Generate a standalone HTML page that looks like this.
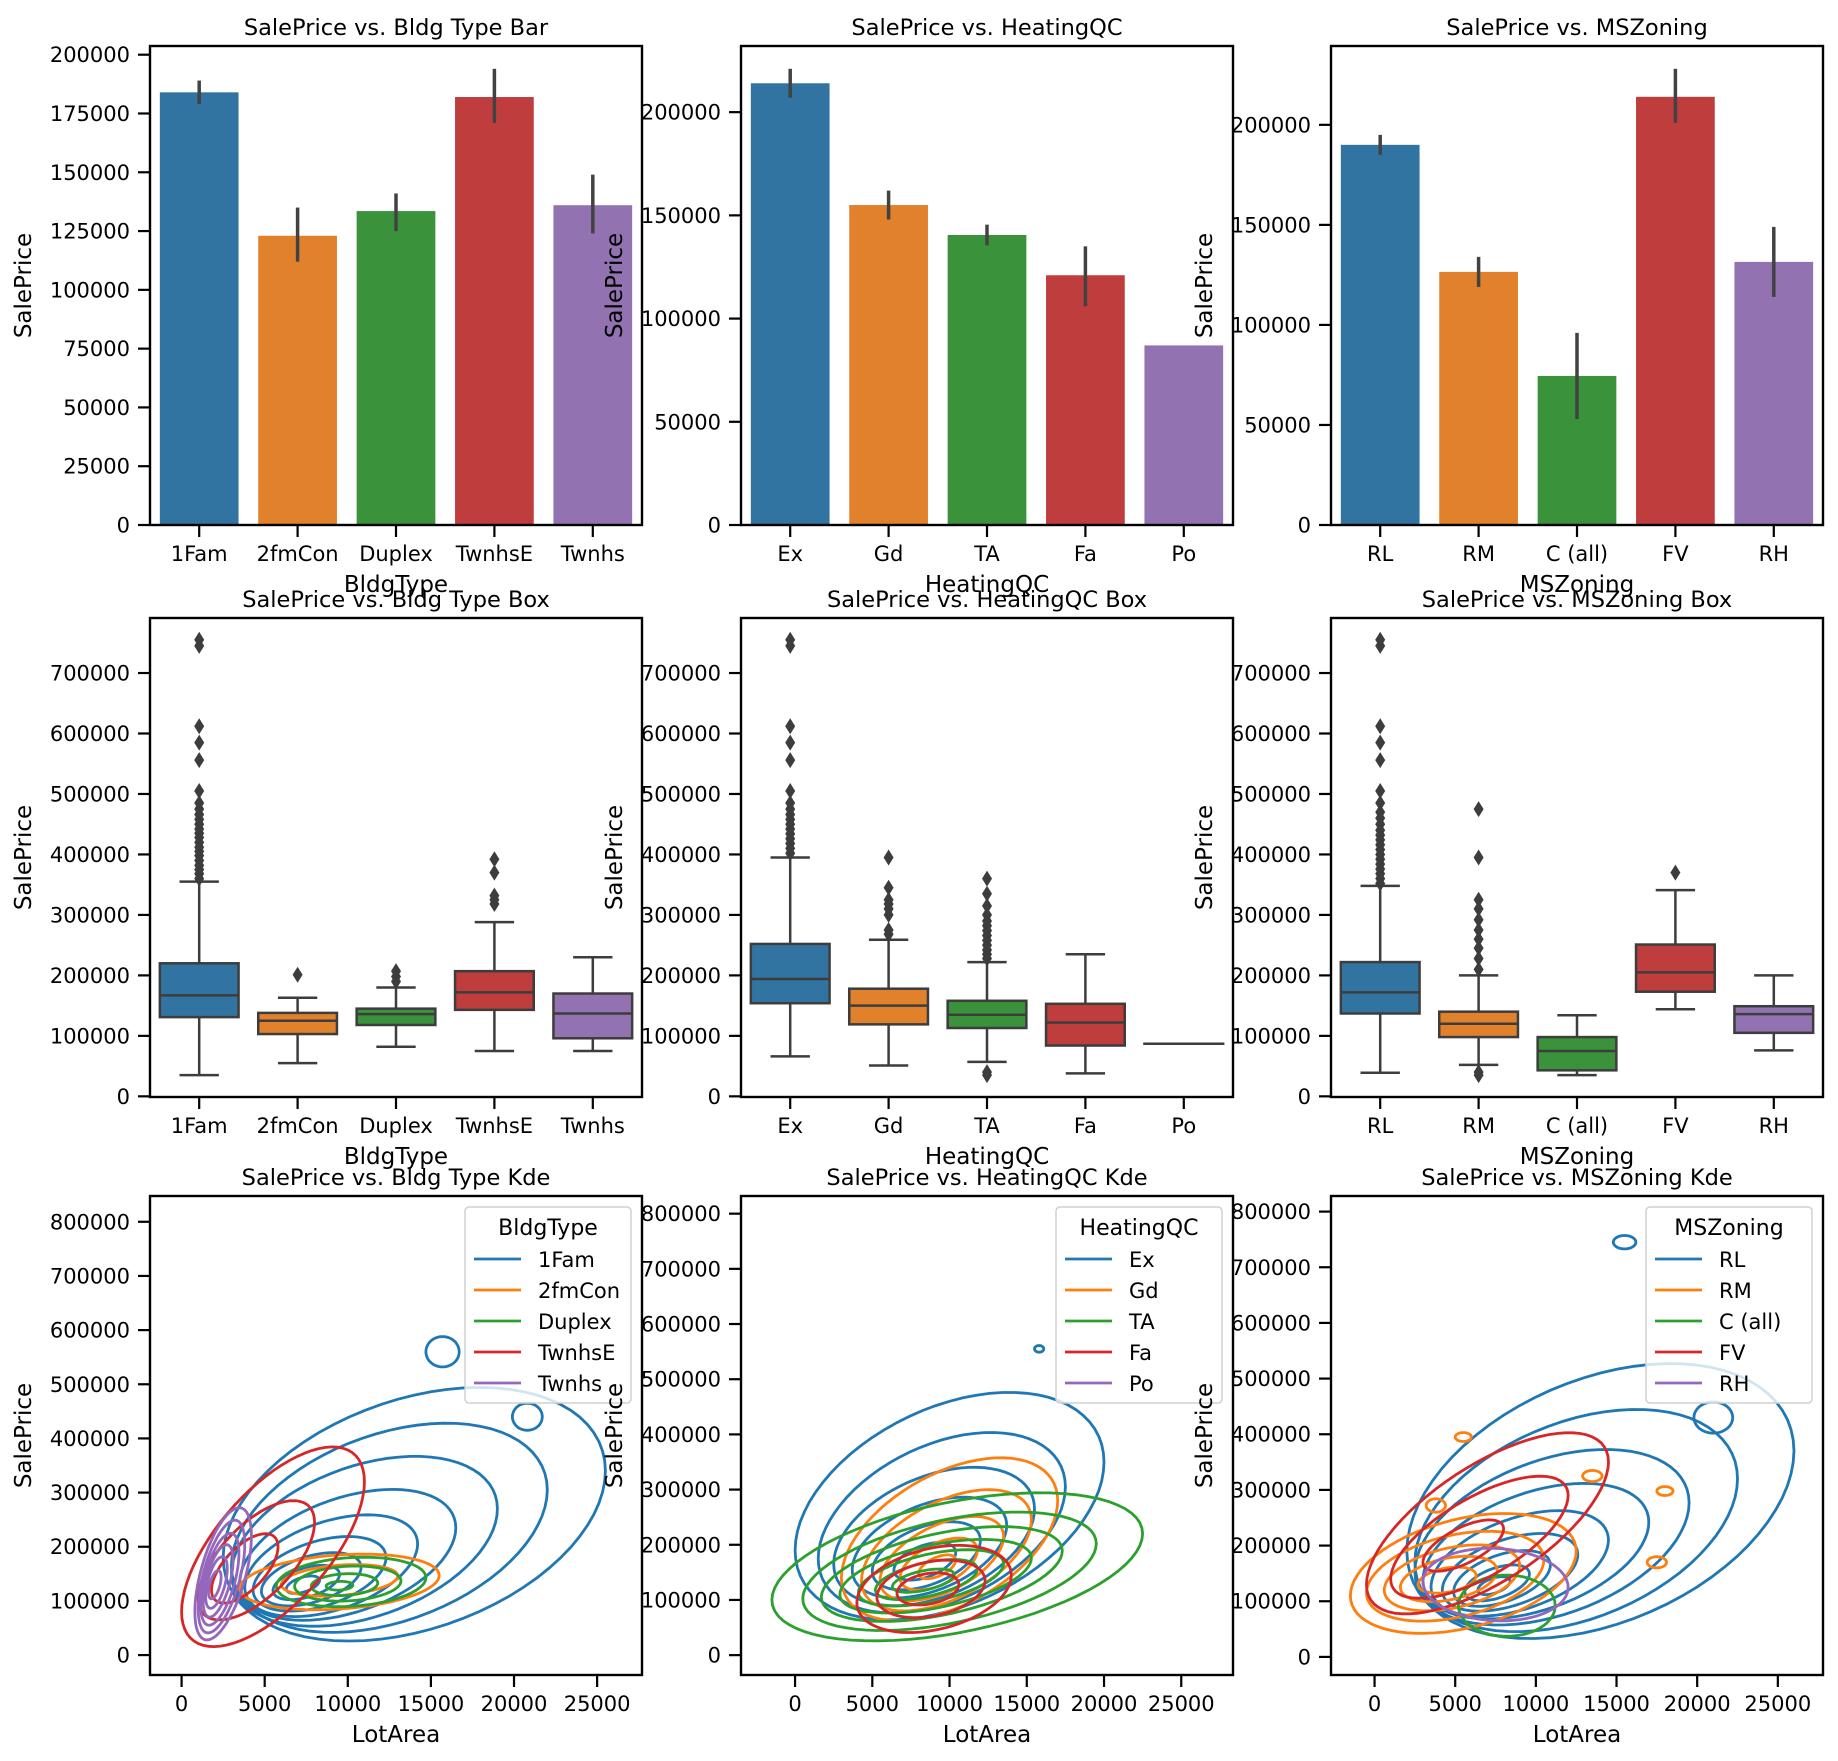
<!DOCTYPE html>
<html><head><meta charset="utf-8">
<style>
html,body{margin:0;padding:0;background:#fff;}
svg{display:block;font-family:"DejaVu Sans","Liberation Sans",sans-serif;}
</style></head>
<body>
<svg id="fig" xmlns="http://www.w3.org/2000/svg" width="1838" height="1761" viewBox="0 0 1838 1761"></svg>
<script>
// ---------- DATA ----------
const bldgCats = ["1Fam","2fmCon","Duplex","TwnhsE","Twnhs"];
const heatCats = ["Ex","Gd","TA","Fa","Po"];
const zoneCats = ["RL","RM","C (all)","FV","RH"];

const bldgMeans = [184000,123000,133500,182000,136000];
const bldgCiLow = [179000,112000,125000,171000,124000];
const bldgCiHigh = [189000,135000,141000,194000,149000];
const heatMeans = [214000,155000,140500,121000,87000];
const heatCiLow = [207000,148000,135500,106000,87000];
const heatCiHigh = [221000,162000,145500,135000,87000];
const zoneMeans = [190000,126500,74500,214000,131500];
const zoneCiLow = [185000,119000,53000,201000,114000];
const zoneCiHigh = [195000,134000,96000,228000,149000];

// box stats: [whiskerLow, Q1, median, Q3, whiskerHigh]
const bldgBox = [[35000,131000,167000,220000,355000],[55000,103000,125000,138000,163000],[82000,118000,136000,145000,180000],[75000,143000,172000,207000,288000],[75000,96000,137000,170000,230000]];
const bldgOut = [[360000,368000,375000,382000,390000,398000,405000,412000,420000,428000,435000,442000,450000,458000,466000,475000,485000,505000,556000,585000,612000,745000,755000],[201000],[190000,198000,207000],[318000,325000,332000,370000,392000],[]];
const heatBox = [[66000,154000,194000,252000,395000],[51000,119000,150000,178000,259000],[57000,113000,135000,158000,222000],[37900,84000,122000,153000,235000],[87000,87000,87000,87000,87000]];
const heatOut = [[402000,410000,418000,426000,434000,442000,450000,458000,466000,475000,485000,505000,556000,585000,612000,745000,755000],[268000,275000,300000,310000,318000,325000,345000,395000],[35000,40000,228000,235000,242000,250000,258000,266000,274000,282000,290000,300000,315000,335000,360000],[],[]];
const zoneBox = [[39000,137000,172000,222000,348000],[52000,98000,120000,140000,200000],[35000,43000,75000,98000,134000],[144000,173000,205000,251000,341000],[76000,105000,136000,149000,200000]];
const zoneOut = [[352000,360000,368000,376000,384000,392000,400000,408000,416000,424000,432000,440000,450000,460000,470000,485000,505000,556000,585000,612000,745000,755000],[35000,40000,210000,228000,245000,260000,275000,292000,310000,325000,395000,475000],[],[370000],[]];

// KDE density contour levels as [centerLotArea, centerPrice, halfLotArea, halfPrice, priceTilt]
const kdeB_1Fam = [[14000,260000,11500,220000,80000],[12500,235000,9500,180000,70000],[11000,210000,8000,145000,60000],[10000,185000,6500,110000,50000],[9000,165000,5200,85000,40000],[8300,150000,4000,62000,30000],[7800,140000,3000,44000,22000],[7500,134000,2000,28000,15000],[7300,130000,1000,14000,8000],[15700,560000,1000,28000,0],[20800,440000,900,25000,0]];
const kdeB_2fmCon = [[9500,135000,6000,50000,12000],[9500,138000,3500,28000,8000]];
const kdeB_Duplex = [[10200,135000,4500,45000,8000],[10000,132000,3200,32000,5000],[9800,130000,2000,20000,3000],[9500,128000,800,8000,1000]];
const kdeB_TwnhsE = [[5500,200000,5500,140000,120000],[4500,175000,3500,85000,70000],[3800,160000,2000,50000,40000]];
const kdeB_Twnhs = [[2500,150000,1700,100000,70000],[2400,145000,1400,85000,60000],[2300,140000,1150,70000,48000],[2200,137000,900,55000,38000],[2100,134000,650,40000,26000],[2000,130000,380,22000,14000]];

const kdeH_Ex = [[10000,270000,10000,190000,80000],[9500,240000,8000,150000,65000],[9000,215000,6500,115000,50000],[8700,195000,5000,82000,40000],[8500,180000,3500,55000,28000],[8400,170000,2000,30000,16000],[15800,555000,300,6000,0]];
const kdeH_Gd = [[10000,210000,7000,130000,70000],[9800,190000,5500,95000,55000],[9500,175000,4000,65000,40000],[9300,165000,2500,40000,25000],[9200,160000,1200,18000,12000]];
const kdeH_TA = [[10500,160000,12000,120000,60000],[10000,152000,9500,95000,50000],[9500,147000,7800,75000,42000],[9100,143000,6200,58000,33000],[8800,140000,4700,44000,26000],[8500,137000,3300,31000,19000],[8300,135000,2000,18000,11000]];
const kdeH_Fa = [[9000,120000,5000,75000,25000],[8800,120000,3500,50000,15000],[8600,120000,2000,28000,8000]];
const kdeH_Po = [];

const kdeZ_RL = [[14000,280000,12000,230000,90000],[12500,245000,10000,185000,75000],[11000,215000,8500,145000,62000],[10000,190000,7000,110000,52000],[9000,168000,5500,85000,42000],[8400,152000,4200,62000,32000],[7900,141000,3000,44000,24000],[7600,133000,2000,28000,16000],[7400,128000,1000,14000,8000],[15500,745000,700,12000,0],[21000,430000,1200,28000,0]];
const kdeZ_RM = [[5500,150000,7000,100000,40000],[5000,145000,5500,75000,30000],[4800,142000,4200,55000,22000],[4600,140000,3000,38000,15000],[4500,138000,1800,22000,8000],[5500,395000,500,8000,0],[3800,272000,600,12000,0],[13500,325000,600,10000,0],[18000,298000,500,8000,0],[17500,170000,600,10000,0]];
const kdeZ_C = [[8200,92000,3000,55000,0]];
const kdeZ_FV = [[7000,240000,7500,120000,110000],[6500,215000,5500,80000,75000],[5500,200000,2500,35000,30000]];
const kdeZ_RH = [[7500,130000,4500,65000,-5000]];

const barTicks1 = [0,25000,50000,75000,100000,125000,150000,175000,200000];
const barTicks2 = [0,50000,100000,150000,200000];
const boxTicks = [0,100000,200000,300000,400000,500000,600000,700000];
const kdeYTicks = [0,100000,200000,300000,400000,500000,600000,700000,800000];
const kdeXTicks = [0,5000,10000,15000,20000,25000];

// ---------- LAYOUT ----------
const NS = "http://www.w3.org/2000/svg";
const svg = document.getElementById("fig");
const colX = [150,741,1331], rowY = [46,618,1196], AW = 492, AH = 479;
const boxCol = ["#3274a1","#e1812c","#3a923a","#c03d3e","#9372b2"];
const lineCol = ["#1f77b4","#ff7f0e","#2ca02c","#d62728","#9467bd"];

function mk(tag, attrs, parent){
  const e = document.createElementNS(NS, tag);
  for (const k in attrs) e.setAttribute(k, attrs[k]);
  parent.appendChild(e);
  return e;
}
function txt(s, x, y, size, anchor, parent, rot){
  const t = mk("text", {x:x, y:y, "font-size":size, "text-anchor":anchor, fill:"#000"}, parent);
  if (rot) t.setAttribute("transform", "rotate(-90 "+x+" "+y+")");
  t.textContent = s;
  return t;
}
function scale(d0,d1,r0,r1){ return v => r0 + (v-d0)/(d1-d0)*(r1-r0); }

let clipN = 0;
function axes(c, r, xmin, xmax, ymin, ymax, name){
  const x0 = colX[c], y0 = rowY[r];
  const g = mk("g", {}, svg);
  
  
  const ax = {g:g, x0:x0, y0:y0, sx:scale(xmin,xmax,x0,x0+AW), sy:scale(ymin,ymax,y0+AH,y0)};
  const cid = "clip"+(clipN++);
  const cp = mk("clipPath", {id:cid}, g);
  mk("rect", {x:x0, y:y0, width:AW, height:AH}, cp);
  ax.plot = mk("g", {"clip-path":"url(#"+cid+")"}, g);
  
  
  return ax;
}
function frame(ax, xt, xl, yt, yl, xlabel, ylabel, title){
  const g = ax.g, x0 = ax.x0, y0 = ax.y0;
  const fr = mk("rect", {x:x0, y:y0, width:AW, height:AH, fill:"none", stroke:"#000", "stroke-width":2.4}, g);
  
  
  xt.forEach((v,i)=>{
    const px = ax.sx(v);
    mk("line", {x1:px, x2:px, y1:y0+AH, y2:y0+AH+12, stroke:"#000", "stroke-width":2.2}, g);
    const t = txt(xl[i], px, y0+AH+36, 21, "middle", g);
    
    
  });
  yt.forEach((v,i)=>{
    const py = ax.sy(v);
    mk("line", {x1:x0-12, x2:x0, y1:py, y2:py, stroke:"#000", "stroke-width":2.2}, g);
    const t = txt(yl[i], x0-20, py+7.5, 21, "end", g);
    
    
  });
  const xa = txt(xlabel, x0+AW/2, y0+AH+67, 23, "middle", g);
  
  
  const ya = txt(ylabel, x0-119, y0+AH/2, 23, "middle", g, true);
  
  
  const ti = txt(title, x0+AW/2, y0-11, 22.5, "middle", g);
  
  
}
const idx = [0,1,2,3,4];
const fmt = v => String(v);

function barChart(c, cats, means, lo, hi, xlabel, title, ticks){
  const ymax = Math.max(...hi)*1.05;
  const ax = axes(c, 0, -0.5, 4.5, 0, ymax, "bar-chart-"+xlabel.toLowerCase());
  const bw = ax.sx(0.4)-ax.sx(0);
  means.forEach((m,i)=>{
    const b = mk("rect", {x:ax.sx(i)-bw, y:ax.sy(m), width:2*bw, height:ax.sy(0)-ax.sy(m), fill:boxCol[i]}, ax.plot);
    
    
    if (hi[i] > lo[i]) {
      const e = mk("line", {x1:ax.sx(i), x2:ax.sx(i), y1:ax.sy(lo[i]), y2:ax.sy(hi[i]), stroke:"#424242", "stroke-width":3.5}, ax.plot);
      
      
    }
  });
  frame(ax, idx, cats, ticks, ticks.map(fmt), xlabel, "SalePrice", title);
}
function boxChart(c, cats, stats, outs, xlabel, title){
  const ax = axes(c, 1, -0.5, 4.5, -1100, 791000, "box-chart-"+xlabel.toLowerCase());
  const hw = ax.sx(0.4)-ax.sx(0);
  const cw = hw*0.5;
  stats.forEach((s,i)=>{
    const cx = ax.sx(i), col = "#3d3d3d";
    mk("line", {x1:cx, x2:cx, y1:ax.sy(s[0]), y2:ax.sy(s[1]), stroke:col, "stroke-width":2.5}, ax.plot);
    mk("line", {x1:cx, x2:cx, y1:ax.sy(s[3]), y2:ax.sy(s[4]), stroke:col, "stroke-width":2.5}, ax.plot);
    mk("line", {x1:cx-cw, x2:cx+cw, y1:ax.sy(s[0]), y2:ax.sy(s[0]), stroke:col, "stroke-width":2.5}, ax.plot);
    mk("line", {x1:cx-cw, x2:cx+cw, y1:ax.sy(s[4]), y2:ax.sy(s[4]), stroke:col, "stroke-width":2.5}, ax.plot);
    const b = mk("rect", {x:cx-hw, y:ax.sy(s[3]), width:2*hw, height:Math.max(0.01,ax.sy(s[1])-ax.sy(s[3])), fill:boxCol[i], stroke:col, "stroke-width":2.5}, ax.plot);
    
    
    mk("line", {x1:cx-hw, x2:cx+hw, y1:ax.sy(s[2]), y2:ax.sy(s[2]), stroke:col, "stroke-width":2.5}, ax.plot);
    outs[i].forEach(v=>{
      const py = ax.sy(v);
      const d = mk("path", {d:"M"+cx+" "+(py-8)+"L"+(cx+5)+" "+py+"L"+cx+" "+(py+8)+"L"+(cx-5)+" "+py+"Z", fill:col}, ax.plot);
      
      
    });
  });
  frame(ax, idx, cats, boxTicks, boxTicks.map(fmt), xlabel, "SalePrice", title);
}
function ellPath(ax, e){
  let d = "";
  for (let k=0;k<=72;k++){
    const t = k/72*2*Math.PI;
    const x = e[0] + e[2]*Math.cos(t);
    const y = e[1] + e[3]*Math.sin(t) + e[4]*Math.cos(t);
    d += (k?"L":"M")+ax.sx(x).toFixed(1)+" "+ax.sy(y).toFixed(1);
  }
  return d+"Z";
}
function kdeChart(c, groups, cats, xlabelHue, title, lims){
  const ax = axes(c, 2, lims[0], lims[1], lims[2], lims[3], "kde-chart-"+xlabelHue.toLowerCase());
  groups.forEach((grp,i)=>{
    grp.forEach(e=>{
      const p = mk("path", {d:ellPath(ax,e), fill:"none", stroke:lineCol[i], "stroke-width":2.8}, ax.plot);
      
      
    });
  });
  frame(ax, kdeXTicks, kdeXTicks.map(fmt), kdeYTicks, kdeYTicks.map(fmt), "LotArea", "SalePrice", title);
  // legend
  const lg = mk("g", {}, ax.g);
  
  
  const lx = ax.x0+AW-177, ly = ax.y0+11;
  mk("rect", {x:lx, y:ly, width:166, height:196, rx:4, fill:"#fff", "fill-opacity":0.8, stroke:"#d0d0d0", "stroke-width":1.5}, lg);
  const tt = txt(xlabelHue, lx+83, ly+28, 22, "middle", lg);
  
  
  cats.forEach((n,i)=>{
    const yy = ly+52+i*31;
    const en = mk("g", {}, lg);
    
    
    mk("line", {x1:lx+9, x2:lx+56, y1:yy, y2:yy, stroke:lineCol[i], "stroke-width":2.8}, en);
    txt(n, lx+73, yy+8, 21, "start", en);
  });
}

barChart(0, bldgCats, bldgMeans, bldgCiLow, bldgCiHigh, "BldgType", "SalePrice vs. Bldg Type Bar", barTicks1);
barChart(1, heatCats, heatMeans, heatCiLow, heatCiHigh, "HeatingQC", "SalePrice vs. HeatingQC", barTicks2);
barChart(2, zoneCats, zoneMeans, zoneCiLow, zoneCiHigh, "MSZoning", "SalePrice vs. MSZoning", barTicks2);
boxChart(0, bldgCats, bldgBox, bldgOut, "BldgType", "SalePrice vs. Bldg Type Box");
boxChart(1, heatCats, heatBox, heatOut, "HeatingQC", "SalePrice vs. HeatingQC Box");
boxChart(2, zoneCats, zoneBox, zoneOut, "MSZoning", "SalePrice vs. MSZoning Box");
kdeChart(0, [kdeB_1Fam,kdeB_2fmCon,kdeB_Duplex,kdeB_TwnhsE,kdeB_Twnhs], bldgCats, "BldgType", "SalePrice vs. Bldg Type Kde", [-1900,27700,-36800,847600]);
kdeChart(1, [kdeH_Ex,kdeH_Gd,kdeH_TA,kdeH_Fa,kdeH_Po], heatCats, "HeatingQC", "SalePrice vs. HeatingQC Kde", [-3500,28350,-36000,832000]);
kdeChart(2, [kdeZ_RL,kdeZ_RM,kdeZ_C,kdeZ_FV,kdeZ_RH], zoneCats, "MSZoning", "SalePrice vs. MSZoning Kde", [-2700,27800,-32500,828000]);
</script>
</body></html>
